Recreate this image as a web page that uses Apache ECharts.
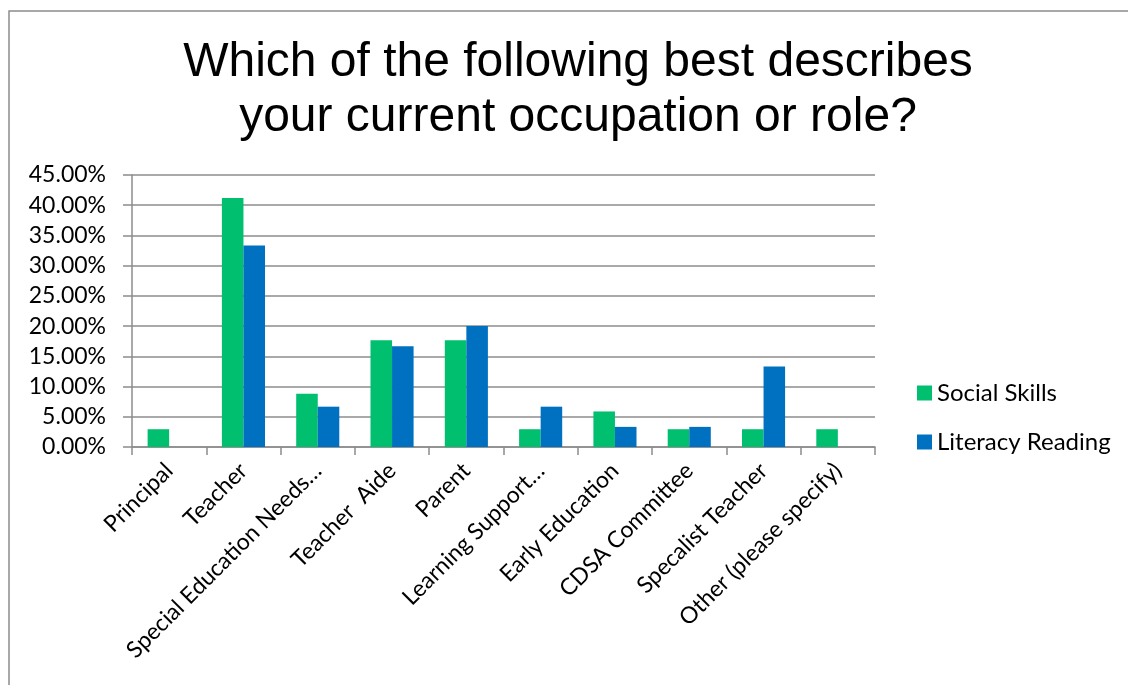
<!DOCTYPE html>
<html>
<head>
<meta charset="utf-8">
<script src="https://cdn.jsdelivr.net/npm/echarts@6/dist/echarts.min.js"></script>
<style>
  html, body { margin: 0; padding: 0; background: #fff; }
  #chart { width: 1128px; height: 685px; }
</style>
</head>
<body>
<div id="chart"></div>
<script>
// Survey roles and response shares (percent)
const categories = [
  'Principal', 'Teacher', 'Special Education Needs…', 'Teacher  Aide', 'Parent',
  'Learning Support…', 'Early Education', 'CDSA Committee', 'Specalist Teacher',
  'Other (please specify)'
];
const socialSkills = [2.94, 41.18, 8.82, 17.65, 17.65, 2.94, 5.88, 2.94, 2.94, 2.94];
const literacyReading = [0, 33.33, 6.67, 16.67, 20.00, 6.67, 3.33, 3.33, 13.33, 0];
const seriesNames = ['Social Skills', 'Literacy Reading'];
const titleText = 'Which of the following best describes\nyour current occupation or role?';

const labelFont = 'Lato, "Open Sans", sans-serif';
const chart = echarts.init(document.getElementById('chart'));
chart.setOption({
  backgroundColor: '#fff',
  animation: false,
  graphic: [{
    type: 'rect',
    shape: { x: 9, y: 11, width: 1140, height: 700 },
    style: { fill: 'none', stroke: '#8c8c8c', lineWidth: 1.5 },
    silent: true
  }],
  title: {
    text: titleText,
    left: 573,
    top: 30,
    textAlign: 'center',
    textStyle: {
      fontFamily: '"Liberation Sans", Arial, sans-serif',
      fontSize: 48,
      fontWeight: 'normal',
      color: '#000',
      lineHeight: 55
    }
  },
  legend: {
    orient: 'vertical',
    left: 917,
    top: 381,
    padding: 0,
    itemWidth: 15,
    itemHeight: 15,
    itemGap: 25,
    icon: 'rect',
    textStyle: { fontFamily: labelFont, fontSize: 24, color: '#000', padding: [0, 0, 0, 0] },
    data: seriesNames
  },
  grid: { left: 132, right: 253, top: 175, bottom: 238, containLabel: false },
  xAxis: {
    type: 'category',
    data: categories,
    axisLine: { lineStyle: { color: '#8c8c8c', width: 1.5 } },
    axisTick: { show: true, length: 8, alignWithLabel: false, lineStyle: { color: '#8c8c8c', width: 1.5 } },
    axisLabel: {
      rotate: 45,
      interval: 0,
      margin: 20,
      fontFamily: labelFont,
      fontSize: 23,
      color: '#000'
    }
  },
  yAxis: {
    type: 'value',
    min: 0,
    max: 45,
    interval: 5,
    axisLine: { show: true, lineStyle: { color: '#8c8c8c', width: 1.5 } },
    axisTick: { show: true, length: 9, lineStyle: { color: '#8c8c8c', width: 1.5 } },
    splitLine: { show: true, lineStyle: { color: '#8c8c8c', width: 1.5 } },
    axisLabel: {
      margin: 26,
      fontFamily: labelFont,
      fontSize: 23,
      color: '#000',
      formatter: v => v.toFixed(2) + '%'
    }
  },
  series: [
    {
      name: seriesNames[0],
      type: 'bar',
      data: socialSkills,
      barGap: '0%',
      barCategoryGap: '42%',
      itemStyle: { color: '#00BF6F' }
    },
    {
      name: seriesNames[1],
      type: 'bar',
      data: literacyReading,
      barGap: '0%',
      barCategoryGap: '42%',
      itemStyle: { color: '#0070C0' }
    }
  ]
});
</script>
</body>
</html>
